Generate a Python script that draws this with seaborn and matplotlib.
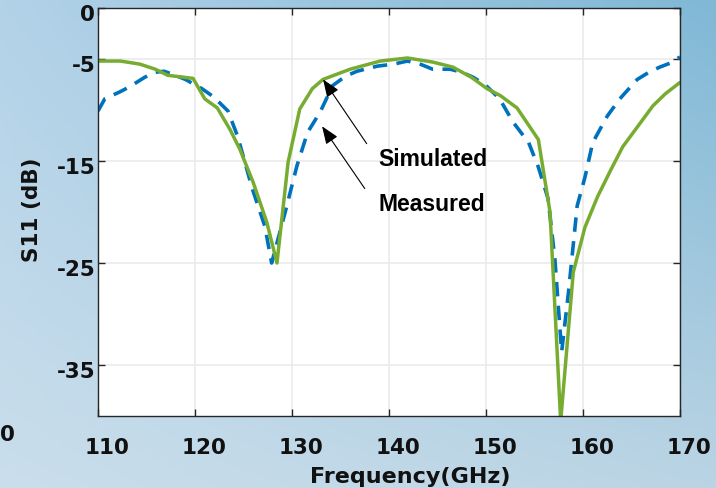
import numpy as np
import pandas as pd
import matplotlib.pyplot as plt
import seaborn as sns
from matplotlib.transforms import ScaledTranslation

# Simulated S11 (solid green)
freq_sim = [110, 112.3, 114.3, 115.9, 117.2, 119.8, 121.0, 122.3, 123.6, 124.6,
            126.0, 127.4, 128.45, 129.6, 130.8, 132.1, 133.2, 136.0, 139.1, 141.9,
            144.5, 146.6, 148.5, 150.1, 151.5, 153.2, 155.4, 156.6, 157.7, 159.0,
            160.2, 161.5, 162.8, 164.1, 165.5, 167.2, 168.5, 170]
s11_sim = [-5.2, -5.2, -5.5, -6.0, -6.6, -6.9, -8.9, -9.8, -11.9, -13.8,
           -17.1, -21.0, -25.0, -15.1, -9.9, -7.9, -7.0, -6.0, -5.2, -4.9,
           -5.3, -5.8, -6.8, -7.9, -8.6, -9.8, -12.9, -20.0, -40.5, -25.9,
           -21.5, -18.5, -16.0, -13.6, -11.8, -9.6, -8.4, -7.3]

# Measured S11 (dashed blue)
freq_meas = [110, 110.7, 112.3, 113.3, 114.8, 115.9, 116.8, 117.7, 119.0, 120.7,
             121.9, 123.4, 124.4, 125.9, 127.2, 127.9, 129.3, 130.5, 131.6, 132.9,
             134.2, 135.5, 136.7, 138.8, 140.5, 141.9, 143.2, 144.5, 146.3, 147.5,
             148.7, 150.0, 151.4, 152.8, 154.4, 155.4, 156.4, 157.1, 157.8, 158.5,
             159.4, 160.2, 161.0, 162.5, 163.8, 165.6, 166.8, 167.9, 169.0, 170]
s11_meas = [-10.1, -8.9, -8.2, -7.7, -6.8, -6.3, -6.2, -6.5, -7.0, -7.9,
            -8.7, -10.1, -12.6, -17.7, -21.4, -25.0, -20.0, -15.5, -12.2, -10.2,
            -7.6, -6.7, -6.2, -5.7, -5.5, -5.2, -5.5, -6.0, -6.0, -6.3,
            -6.8, -7.6, -8.9, -11.2, -13.2, -15.6, -18.7, -24.6, -33.7, -27.9,
            -19.4, -16.6, -13.2, -10.6, -8.9, -7.0, -6.3, -5.8, -5.4, -4.8]

xticks = [110, 120, 130, 140, 150, 160, 170]
yticks = [0, -5, -15, -25, -35]

df_sim = pd.DataFrame({'Frequency': freq_sim, 'S11': s11_sim})
df_meas = pd.DataFrame({'Frequency': freq_meas, 'S11': s11_meas})

sns.set_theme(style="ticks")
plt.rcParams['font.family'] = ['DejaVu Sans']
plt.rcParams['axes.unicode_minus'] = False

fig = plt.figure(figsize=(7.16, 4.89), dpi=100)

# Blue gradient backdrop
bg = fig.add_axes([0, 0, 1, 1], zorder=-5)
tl = np.array([178, 210, 232]) / 255
tr = np.array([128, 184, 214]) / 255
bl = np.array([202, 222, 236]) / 255
br = np.array([186, 212, 228]) / 255
u = np.linspace(0, 1, 200)[None, :, None]
v = np.linspace(0, 1, 150)[:, None, None]
grad = (1 - v) * ((1 - u) * tl + u * tr) + v * ((1 - u) * bl + u * br)
bg.imshow(grad, aspect='auto', extent=[0, 1, 0, 1], origin='upper')
bg.axis('off')

ax = fig.add_axes([0.1369, 0.1472, 0.8128, 0.8344])
ax.set_facecolor('white')

sns.lineplot(data=df_meas, x='Frequency', y='S11', ax=ax, sort=False,
             color='#0072bd', lw=2.6, linestyle=(0, (4, 2.6)))
sns.lineplot(data=df_sim, x='Frequency', y='S11', ax=ax, sort=False,
             color='#77ac30', lw=2.5)

ax.set_xlim(110, 170)
ax.set_ylim(-40, 0)
ax.set_xticks(xticks)
ax.set_yticks(yticks)
ax.grid(True, color='#ebebeb', lw=1.2)
ax.set_axisbelow(True)

for s in ax.spines.values():
    s.set_color('#262626')
    s.set_linewidth(1.0)
    s.set_visible(True)

ax.tick_params(direction='in', length=5, width=1, color='#262626',
               top=True, right=True, labelsize=15.5)
ax.tick_params(axis='x', pad=15)
ax.tick_params(axis='y', pad=2)
for lab in ax.get_xticklabels() + ax.get_yticklabels():
    lab.set_fontweight('heavy')
    lab.set_color('#111111')
for lab in ax.get_xticklabels():
    lab.set_transform(lab.get_transform() + ScaledTranslation(0.09, 0, fig.dpi_scale_trans))
for lab in ax.get_yticklabels():
    lab.set_transform(lab.get_transform() + ScaledTranslation(0, -0.04, fig.dpi_scale_trans))

ax.set_xlabel('Frequency(GHz)', fontsize=16, fontweight='heavy', color='#111111')
ax.set_ylabel('S11 (dB)', fontsize=15.5, fontweight='heavy', color='#111111')
ax.xaxis.set_label_coords(0.536, -0.122)
ax.yaxis.set_label_coords(-0.097, 0.507)

# Annotations
arrow = dict(arrowstyle='-|>,head_length=0.9,head_width=0.35', lw=0.8,
             color='black', shrinkA=0, shrinkB=0)
ax.annotate('', xy=(133.2, -7.0), xytext=(137.7, -13.3), arrowprops=arrow)
ax.annotate('', xy=(133.1, -11.6), xytext=(137.5, -17.7), arrowprops=arrow)
ax.text(138.9, -14.8, 'Simulated', family='Liberation Sans', fontweight='bold',
        fontsize=16.5, color='black', ha='left', va='center')
ax.text(138.9, -19.2, 'Measured', family='Liberation Sans', fontweight='bold',
        fontsize=16.5, color='black', ha='left', va='center')

# remnant of a neighbouring tick label at the left edge
fig.text(0.0, 1 - 435 / 489, '0', fontsize=15.5, fontweight='heavy',
         color='#111111', ha='left', va='center')

fig.savefig('out.png', dpi=100)
